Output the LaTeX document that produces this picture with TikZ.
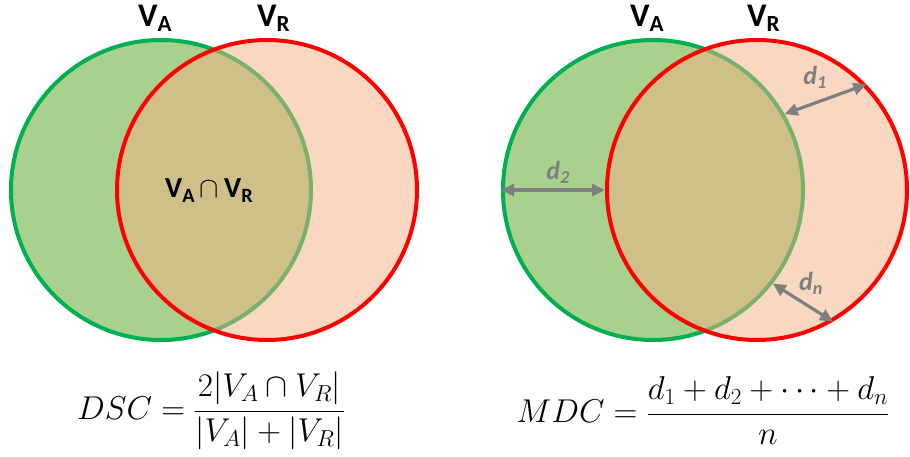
\RequirePackage{fix-cm}
\documentclass[tikz,border=0pt]{standalone}
\usepackage[no-math]{fontspec}
\setmainfont{Carlito}
\usetikzlibrary{arrows.meta}
\definecolor{gline}{HTML}{00B050}
\definecolor{gfill}{HTML}{A9D18E}
\definecolor{rline}{HTML}{FF0000}
\definecolor{rfill}{HTML}{F4B183}
\definecolor{dgray}{HTML}{7F7F7F}
\begin{document}
\begin{tikzpicture}[x=1pt,y=-1pt,
  gcirc/.style={circle, inner sep=0pt, minimum size=300pt, line width=4pt, draw=gline, fill=gfill},
  rcirc/.style={circle, inner sep=0pt, minimum size=300pt, line width=4pt, draw=rline, fill=rfill, fill opacity=0.5},
  toplbl/.style={font=\fontsize{33}{36}\selectfont\bfseries, inner sep=0pt, anchor=base west},
  midlbl/.style={font=\fontsize{29}{32}\selectfont\bfseries, inner sep=0pt, anchor=base west},
  dlbl/.style={font=\fontsize{26}{28}\selectfont\bfseries\itshape, text=dgray, inner sep=0pt},
  darr/.style={draw=dgray, line width=3.2pt, {Triangle[length=13pt,width=12pt]}-{Triangle[length=13pt,width=12pt]}},
  formula/.style={font=\fontsize{33}{38}\selectfont, inner sep=0pt}]
\path[use as bounding box, fill=white] (0,0) rectangle (910,457);
% left pair
\node[gcirc] (gA) at (161,190) {};
\node[rcirc] (rA) at (267,190) {};
% right pair
\node[gcirc] (gB) at (653,190) {};
\node[rcirc] (rB) at (757,190) {};
% labels
\node[toplbl] (lA1) at (138,27) {V\textsubscript{A}};
\node[toplbl] (lR1) at (257,27) {V\textsubscript{R}};
\node[toplbl] (lA2) at (630,27) {V\textsubscript{A}};
\node[toplbl] (lR2) at (747,27) {V\textsubscript{R}};
\node[midlbl] (lAR) at (165,198) {V\textsubscript{A}\,$\cap$\,V\textsubscript{R}};
% distance arrows
\draw[darr] (gB.30.6) -- (rB.44);
\draw[darr] (gB.west) -- (rB.west);
\draw[darr] (gB.-38) -- (rB.-60.3);
\node[dlbl] (d1) at (815,77) {d\textsubscript{1}};
\node[dlbl] (d2) at (558,172) {d\textsubscript{2}};
\node[dlbl] (dn) at (811,283) {d\textsubscript{n}};
% formulas
\node[formula] (fA) at (211,411) {$\displaystyle DSC = \frac{2|V_A\cap V_R|\rule[-5pt]{0pt}{1pt}}{\rule{0pt}{28pt}|V_A|+|V_R|}$};
\node[formula] (fB) at (703,411) {$\displaystyle MDC = \frac{d_1+d_2+\cdots+d_n\rule[-5pt]{0pt}{1pt}}{\rule{0pt}{22pt}n}$};
\end{tikzpicture}
\end{document}
